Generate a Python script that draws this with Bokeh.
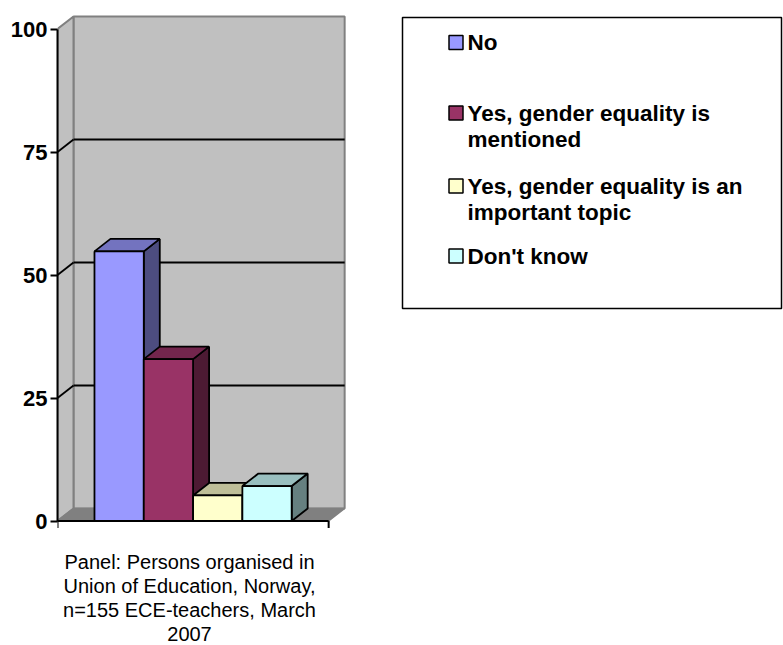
from bokeh.plotting import figure
from bokeh.models import Range1d, LinearAxis, FixedTicker
from bokeh.core.properties import value
from bokeh.embed import file_html
from bokeh.resources import INLINE

# ---- data -------------------------------------------------------------
categories = [
    "No",
    "Yes, gender equality is mentioned",
    "Yes, gender equality is an important topic",
    "Don't know",
]
shares = [54.8, 32.9, 5.2, 7.1]          # percent of respondents
y_ticks = [0, 25, 50, 75, 100]
legend_lines = [
    ["No"],
    ["Yes, gender equality is", "mentioned"],
    ["Yes, gender equality is an", "important topic"],
    ["Don't know"],
]
caption_lines = [
    "Panel: Persons organised in",
    "Union of Education, Norway,",
    "n=155 ECE-teachers, March",
    "2007",
]

# ---- colours (front face, top face, side face) --------------------------
front_colors = ["#9999FF", "#993366", "#FFFFCC", "#CCFFFF"]
top_colors = ["#7373BF", "#73264D", "#BFBF99", "#99BFBF"]
side_colors = ["#4D4D80", "#4D1A33", "#808066", "#668080"]
WALL = "#C0C0C0"
FLOOR = "#808080"
EDGE = "#808080"

# ---- geometry -----------------------------------------------------------
W, H = 783, 645
LEFT = 57            # canvas column of the value axis
ZERO_ROW = 520.5     # canvas row of value 0
PX = 49.3            # pixels per bar width
PY = 4.92            # pixels per percent
DX = 16 / PX         # depth offset of the 3-D box, in data units
DY = 12.5 / PY
SPAN = 5.5           # category axis length in bar widths
GAP = 0.75           # space before the first bar


def cx(px):
    return (px - LEFT) / PX


def cy(py):
    return (ZERO_ROW - py) / PY


FONT = value("Liberation Sans")

p = figure(
    width=W, height=H,
    x_range=Range1d(0, (W - LEFT) / PX),
    y_range=Range1d(-(H - ZERO_ROW) / PY, ZERO_ROW / PY),
    x_axis_type=None, y_axis_type=None,
    toolbar_location=None, output_backend="svg",
    min_border_left=LEFT, min_border_right=0,
    min_border_top=0, min_border_bottom=0,
)
p.outline_line_color = None
p.background_fill_color = "white"
p.border_fill_color = "white"

top_val = y_ticks[-1]

# back wall, left wall and floor
p.quad(left=DX, right=SPAN + DX, bottom=DY, top=top_val + DY,
       fill_color=WALL, line_color=EDGE, line_width=2)
p.patch([0, DX, DX, 0], [0, DY, top_val + DY, top_val],
        fill_color=WALL, line_color=EDGE, line_width=2)
p.patch([0, DX, SPAN + DX, SPAN], [0, DY, DY, 0],
        fill_color=FLOOR, line_color=EDGE, line_width=1.5)

# gridlines on the back wall and along the side wall
grid_vals = y_ticks[1:-1]
p.segment(x0=[DX] * len(grid_vals), y0=[v + DY for v in grid_vals],
          x1=[SPAN + DX] * len(grid_vals), y1=[v + DY for v in grid_vals],
          line_color="black", line_width=1.8)
p.segment(x0=[0] * len(grid_vals), y0=grid_vals,
          x1=[DX] * len(grid_vals), y1=[v + DY for v in grid_vals],
          line_color="black", line_width=1.8)

# floor front edge with category tick marks
tick_len = 7 / PY
p.segment(x0=[0], y0=[0], x1=[SPAN], y1=[0], line_color="black", line_width=2)
p.segment(x0=[0, SPAN], y0=[0, 0], x1=[0, SPAN], y1=[-tick_len, -tick_len],
          line_color="black", line_width=2)

# 3-D columns: sides, then tops, then fronts
lefts = [GAP + i for i in range(len(shares))]
rights = [l + 1 for l in lefts]
side_xs = [[r, r + DX, r + DX, r] for r in rights]
side_ys = [[0, DY, v + DY, v] for v in shares]
top_xs = [[l, l + DX, r + DX, r] for l, r in zip(lefts, rights)]
top_ys = [[v, v + DY, v + DY, v] for v in shares]
p.patches(side_xs, side_ys, fill_color=side_colors, line_color="black", line_width=1.8)
p.patches(top_xs, top_ys, fill_color=top_colors, line_color="black", line_width=1.8)
p.quad(left=lefts, right=rights, bottom=0, top=shares,
       fill_color=front_colors, line_color="black", line_width=1.8)

# value axis
axis = LinearAxis(
    bounds=(0, top_val),
    ticker=FixedTicker(ticks=y_ticks),
    major_tick_in=0, major_tick_out=7,
    minor_tick_in=0, minor_tick_out=0,
    axis_line_width=2, major_tick_line_width=2,
    major_label_standoff=3,
    major_label_text_font="Liberation Sans",
    major_label_text_font_style="bold",
    major_label_text_font_size="22px",
    major_label_text_color="black",
)
p.add_layout(axis, "left")

# legend
p.quad(left=cx(402), right=cx(781), top=cy(17), bottom=cy(308),
       fill_color=None, line_color="black", line_width=1.5)
first_rows = [42, 112.5, 185.5, 255.5]     # vertical centre of each entry's first line
line_step = 26
sw_l, sw_r = cx(448.5), cx(462.5)
p.quad(left=[sw_l] * len(categories), right=[sw_r] * len(categories),
       top=[cy(r - 7) for r in first_rows],
       bottom=[cy(r + 7) for r in first_rows],
       fill_color=front_colors, line_color="black", line_width=1.5)
lx, ly, lt = [], [], []
for row, lines in zip(first_rows, legend_lines):
    for j, t in enumerate(lines):
        lx.append(cx(467))
        ly.append(cy(row + j * line_step))
        lt.append(t)
p.text(x=lx, y=ly, text=lt, text_font=FONT, text_font_style="bold",
       text_font_size="22.5px", text_color="black",
       text_align="left", text_baseline="middle")

# caption under the category axis
cap_row = 561
cap_step = 24.2
p.text(x=[cx(189)] * len(caption_lines),
       y=[cy(cap_row + i * cap_step) for i in range(len(caption_lines))],
       text=caption_lines, text_font=FONT, text_font_size="20px",
       text_color="black", text_align="center", text_baseline="middle")

open("out.html", "w").write(file_html(p, INLINE))
